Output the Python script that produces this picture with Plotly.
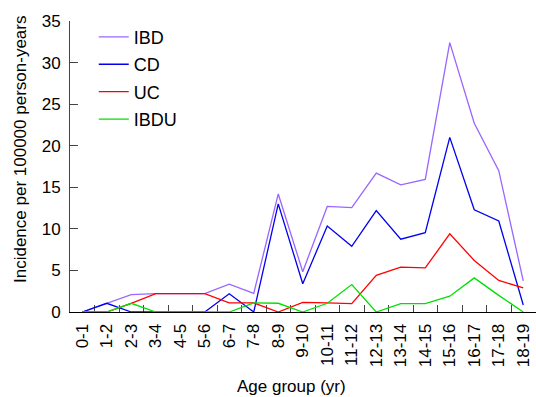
import plotly.graph_objects as go

age_groups = ["0-1", "1-2", "2-3", "3-4", "4-5", "5-6", "6-7", "7-8", "8-9", "9-10",
              "10-11", "11-12", "12-13", "13-14", "14-15", "15-16", "16-17", "17-18", "18-19"]
ibd = [0, 1.05, 2.1, 2.2, 2.2, 2.2, 3.35, 2.25, 14.2, 4.85, 12.7, 12.55, 16.7, 15.3, 15.95, 32.4, 22.7, 17.0, 3.75]
cd = [0, 1.05, 0, 0, 0, 0, 2.2, 0, 13.0, 3.4, 10.35, 7.9, 12.2, 8.75, 9.55, 21.0, 12.3, 10.95, 0.84]
uc = [0, 0, 1.05, 2.2, 2.2, 2.2, 1.1, 1.1, 0, 1.16, 1.1, 1.0, 4.4, 5.4, 5.3, 9.4, 6.2, 3.8, 2.9]
ibdu = [0, 0, 1.05, 0, 0, 0, 0, 1.1, 1.05, 0, 1.05, 3.3, 0, 1.0, 1.0, 1.9, 4.1, 2.0, 0]
y_ticks = [0, 5, 10, 15, 20, 25, 30, 35]

FONT = "Liberation Sans"

series = [("IBD", ibd, "#9966ff"), ("CD", cd, "#0000ee"), ("UC", uc, "#ff0000"), ("IBDU", ibdu, "#00e000")]

fig = go.Figure()
for name, vals, col in series:
    fig.add_trace(go.Scatter(x=age_groups, y=vals, mode="lines", name=name,
                             legendgroup=name,
                             line=dict(color=col, width=1.3)))

W, H = 536, 397
ml, mr, mt, mb = 70, 0, 21, 85

fig.update_layout(
    width=W, height=H,
    margin=dict(l=ml, r=mr, t=mt, b=mb, autoexpand=False),
    paper_bgcolor="white", plot_bgcolor="white",
    font=dict(family=FONT, size=17, color="black"),
    showlegend=True,
    legend=dict(x=0.051, y=1.008, xanchor="left", yanchor="top",
                font=dict(family=FONT, size=18, color="black"),
                bgcolor="rgba(0,0,0,0)", tracegroupgap=1, itemwidth=30),
    xaxis=dict(
        type="category", range=[-0.5, 18.52], automargin=False,
        showline=True, linecolor="black", linewidth=1,
        ticks="inside", ticklen=7, tickcolor="#444", tickwidth=1,
        tickson="boundaries", tickangle=-90,
        tickfont=dict(family=FONT, size=17),
        showgrid=False, zeroline=False, layer="below traces",
        ticklabelstandoff=4,
    ),
    yaxis=dict(
        range=[0, 35], tickvals=y_ticks, automargin=False,
        showline=True, linecolor="#444", linewidth=1,
        ticks="inside", ticklen=8, tickcolor="#444", tickwidth=1,
        tickfont=dict(family=FONT, size=17),
        showgrid=False, zeroline=False, layer="below traces",
        ticklabelstandoff=5,
    ),
    annotations=[
        dict(text="Age group (yr)", xref="paper", yref="paper",
             x=(291 - ml) / (W - ml - mr), y=-(386 - (H - mb)) / (H - mt - mb),
             xanchor="center", yanchor="middle", showarrow=False,
             font=dict(family=FONT, size=17)),
        dict(text="Incidence per 100000 person-years", xref="paper", yref="paper",
             x=-(ml - 20) / (W - ml - mr), y=1 - (150 - mt) / (H - mt - mb),
             xanchor="center", yanchor="middle", textangle=-90, showarrow=False,
             font=dict(family=FONT, size=17)),
    ],
)

fig.write_html("out.html", config={"displayModeBar": False},
               post_script="document.body.style.margin='0';document.body.style.padding='0';")
